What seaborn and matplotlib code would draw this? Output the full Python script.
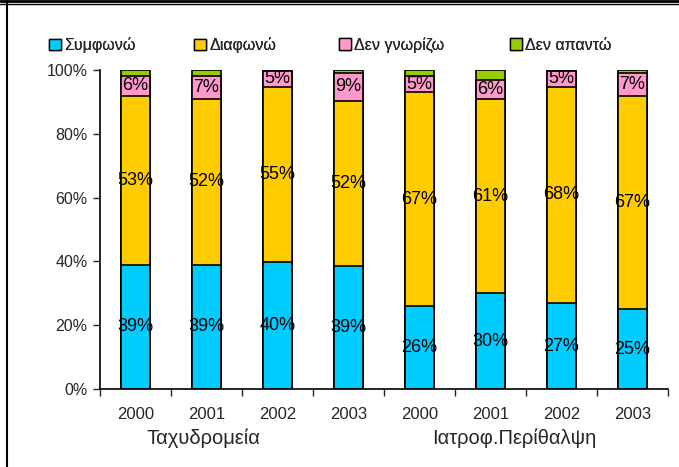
import numpy as np
import pandas as pd
import matplotlib
matplotlib.use("Agg")
import matplotlib.pyplot as plt
import seaborn as sns
from matplotlib.patches import Patch

years = ["2000", "2001", "2002", "2003", "2000", "2001", "2002", "2003"]
groups = ["Ταχυδρομεία", "Ιατροφ.Περίθαλψη"]
series = ["Συμφωνώ", "Διαφωνώ", "Δεν γνωρίζω", "Δεν απαντώ"]
agree = [39, 39, 40, 39, 26, 30, 27, 25]
disagree = [53, 52, 55, 52, 67, 61, 68, 67]
dont_know = [6, 7, 5, 9, 5, 6, 5, 7]
no_answer = [2, 2, 0.3, 0.8, 2, 3, 0.3, 1]
colors = ["#00CCFF", "#FFCC00", "#FF99CC", "#99CC00"]

sns.set_style("white")
plt.rcParams["font.family"] = ["Liberation Sans", "DejaVu Sans"]

vals = np.array([agree, disagree, dont_know, no_answer], dtype=float)
vals = vals / vals.sum(axis=0) * 100
cum = vals.cumsum(axis=0)

fig = plt.figure(figsize=(6.79, 4.67), dpi=100)
ax = fig.add_axes([100 / 679, 1 - 389 / 467, 568 / 679, 319 / 467])

pos = list(range(len(years)))
# draw cumulative totals from the top down so each layer covers the one above
for i in range(3, -1, -1):
    df = pd.DataFrame({"pos": pos, "val": cum[i]})
    sns.barplot(data=df, x="pos", y="val", color=colors[i], width=0.4,
                edgecolor="black", linewidth=1.2, saturation=1, ax=ax)

labels = [agree, disagree, dont_know]
for i in range(3):
    for j in pos:
        mid = cum[i][j] - vals[i][j] / 2
        ax.text(j, mid, f"{labels[i][j]}%", ha="center", va="center", fontsize=13, color="black")

ax.set_xlim(-0.5, 7.5)
ax.set_ylim(0, 100)
ax.set_yticks([0, 20, 40, 60, 80, 100])
ax.set_yticklabels([f"{t}%" for t in [0, 20, 40, 60, 80, 100]], fontsize=11.5)
ax.set_xticks(pos)
ax.set_xticklabels(years, fontsize=12)
ax.set_xticks(np.arange(-0.5, 8, 1), minor=True)
ax.tick_params(axis="x", which="major", length=0, pad=13)
ax.tick_params(axis="x", which="minor", length=5, width=1, direction="out", bottom=True)
ax.tick_params(axis="y", length=5, width=1, direction="out", left=True, pad=4)
ax.set_xlabel("")
ax.set_ylabel("")
for s in ["top", "right"]:
    ax.spines[s].set_visible(False)
for s in ["left", "bottom"]:
    ax.spines[s].set_color("black")
    ax.spines[s].set_linewidth(1.2)

ax.text(0.96, -15.3, groups[0], ha="center", va="center", fontsize=14.5)
ax.text(5.33, -15.3, groups[1], ha="center", va="center", fontsize=14.5)

# one legend per entry, placed where the reference has them
legend_x = [49, 194, 339, 510]
for c, s, lx in zip(colors, series, legend_x):
    leg = fig.legend(handles=[Patch(facecolor=c, edgecolor="black", label=s)],
                     loc="center left", bbox_to_anchor=(lx / 679, 1 - 45 / 467),
                     frameon=False, fontsize=11.5, handlelength=0.75, handleheight=0.75,
                     handletextpad=0.2, borderaxespad=0, borderpad=0)
    fig.add_artist(leg)

# outer frame lines
fig.add_artist(plt.Line2D([0, 1], [1 - 1 / 467, 1 - 1 / 467], transform=fig.transFigure, color="black", lw=2))
fig.add_artist(plt.Line2D([0, 1], [1 - 4 / 467, 1 - 4 / 467], transform=fig.transFigure, color="black", lw=1))
fig.add_artist(plt.Line2D([7 / 679, 7 / 679], [0, 1], transform=fig.transFigure, color="black", lw=1.5))

fig.savefig("out.png", dpi=100)
